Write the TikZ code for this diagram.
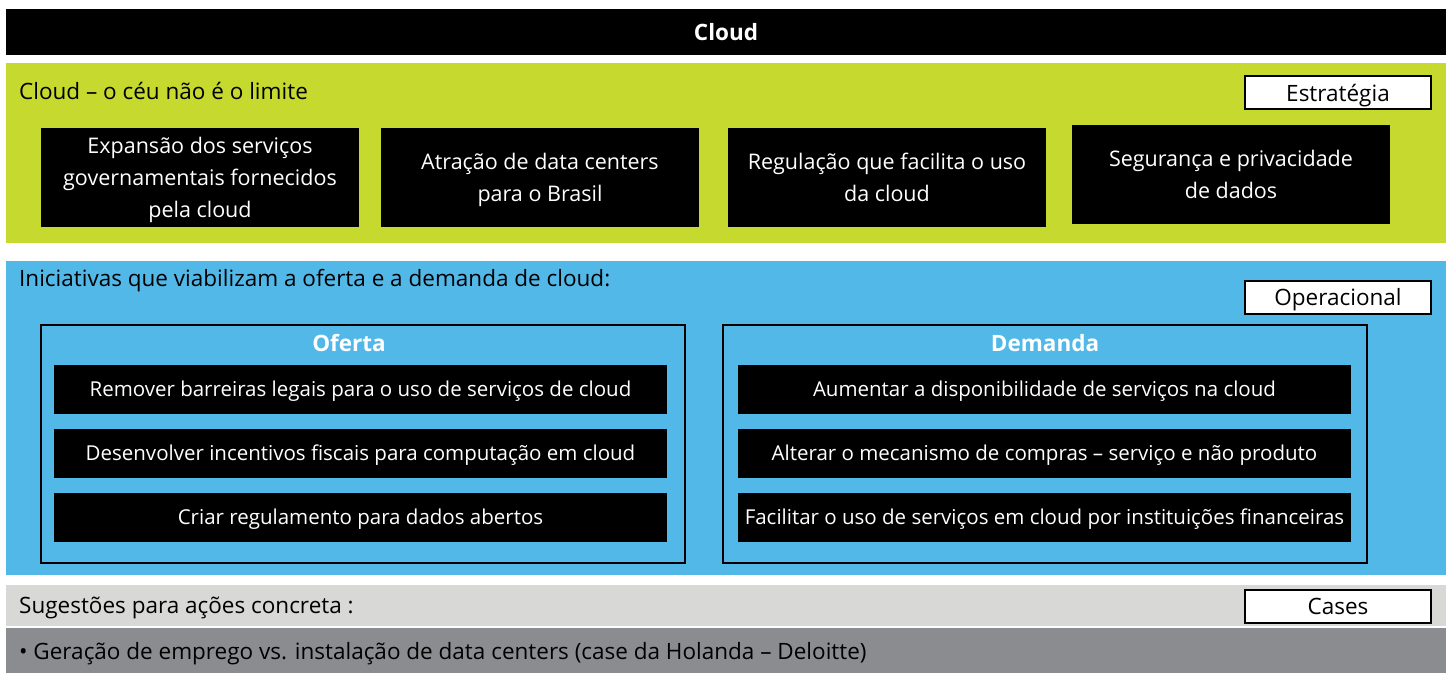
\documentclass[tikz,border=0pt]{standalone}
\usepackage{fontspec}
\setmainfont{Open Sans}
\usetikzlibrary{positioning}
\definecolor{cGreen}{HTML}{C6D92F}
\definecolor{cBlue}{HTML}{52B8E8}
\definecolor{cLightGrey}{HTML}{D8D8D7}
\definecolor{cDarkGrey}{HTML}{8A8C90}
\begin{document}
\begin{tikzpicture}[x=1pt, y=-1pt,
  band/.style={anchor=north west, inner sep=0pt, outer sep=0pt, minimum width=1440pt},
  bandtitle/.style={anchor=west, inner sep=0pt, font=\fontsize{22.5}{27}\selectfont},
  tagbox/.style={draw=black, line width=2pt, fill=white, inner sep=0pt, text depth=0pt,
                 minimum width=186pt, minimum height=33pt, font=\fontsize{22.5}{27}\selectfont},
  ideabox/.style={fill=black, text=white, inner sep=0pt, align=center, text depth=0pt,
                  minimum width=318pt, minimum height=99pt,
                  font=\fontsize{21.5}{32}\selectfont},
  frame/.style={draw=black, line width=2pt, inner sep=0pt,
                minimum width=644pt, minimum height=238pt},
  framehead/.style={text=white, inner sep=0pt, font=\bfseries\fontsize{22.5}{27}\selectfont},
  actbox/.style={fill=black, text=white, inner sep=0pt, text depth=0pt,
                 minimum width=613pt, minimum height=49pt, font=\fontsize{20.5}{24}\selectfont}]
  \useasboundingbox (0,0) rectangle (1452,673);
  % bands
  \node[band, fill=black, minimum height=46pt] (head) at (6,9) {};
  \node[text=white, font=\bfseries\fontsize{22.5}{27}\selectfont] (headtxt) at (head.center) {Cloud};
  \node[band, fill=cGreen, minimum height=180pt] (strat) at (6,63) {};
  \node[band, fill=cBlue, minimum height=314pt] (oper) at (6,261) {};
  \node[band, fill=cLightGrey, minimum height=41pt] (sugest) at (6,585) {};
  \node[band, fill=cDarkGrey, minimum height=45pt] (cases) at (6,628) {};
  % titles and tags
  \node[bandtitle] (strattxt) at (19,91) {Cloud – o céu não é o limite};
  \node[bandtitle] (opertxt) at (19,281) {Iniciativas que viabilizam a oferta e a demanda de cloud:};
  \node[bandtitle] (sugesttxt) at (19,608) {Sugestões para ações concreta :};
  \node[bandtitle] (casestxt) at (19,654) {• Geração de emprego vs. instalação de data centers (case da Holanda – Deloitte)};
  \node[tagbox] (tagstrat) at (1338,92.5) {Estratégia};
  \node[tagbox] (tagoper) at (1338,297) {Operacional};
  \node[tagbox] (tagcases) at (1338,606.5) {Cases};
  % strategy boxes
  \node[ideabox] (idea1) at (200,177.5) {Expansão dos serviços\\governamentais fornecidos\\pela cloud};
  \node[ideabox] (idea2) at (540,177.5) {Atração de data centers\\para o Brasil};
  \node[ideabox] (idea3) at (887,177.5) {Regulação que facilita o uso\\da cloud};
  \node[ideabox] (idea4) at (1231,174) {Segurança e privacidade\\de dados};
  % oferta / demanda
  \node[frame] (oferta) at (362.5,444) {};
  \node[frame] (demanda) at (1045,444) {};
  \node[framehead] (ofhead) at (349,343) {Oferta};
  \node[framehead] (dehead) at (demanda.north |- 0,343) {Demanda};
  \foreach \t [count=\i] in {Remover barreiras legais para o uso de serviços de cloud,
      Desenvolver incentivos fiscais para computação em cloud,
      Criar regulamento para dados abertos}{
    \node[actbox] (of\i) at (360.5,325+\i*64) {\t};}
  \foreach \t [count=\i] in {Aumentar a disponibilidade de serviços na cloud,
      Alterar o mecanismo de compras – serviço e não produto,
      Facilitar o uso de serviços em cloud por instituições financeiras}{
    \node[actbox] (de\i) at (1044.5,325+\i*64) {\t};}
\end{tikzpicture}
\end{document}
